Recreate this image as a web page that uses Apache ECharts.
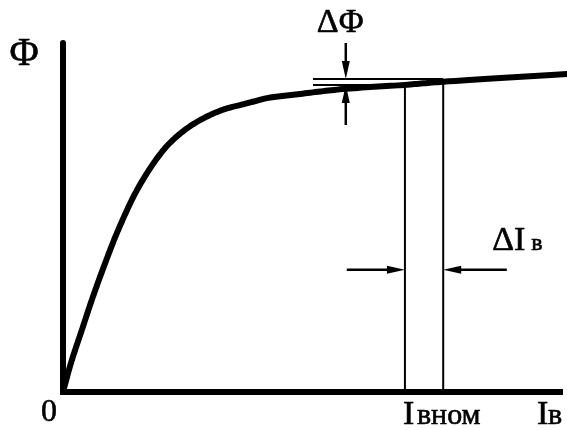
<!DOCTYPE html>
<html>
<head>
<meta charset="utf-8">
<script src="https://cdn.jsdelivr.net/npm/echarts@6/dist/echarts.min.js"></script>
<style>
  html, body { margin: 0; padding: 0; background: #fff; }
  #chart { width: 567px; height: 430px; }
</style>
</head>
<body>
<div id="chart"></div>
<script>
// Magnetization curve Φ = f(Iв) of a DC machine, with the rated operating point
const curveI   = [0, 1.6, 3.8, 6.0, 8.5, 11.1, 14.9, 19.1, 22.1, 26.6, 32.0, 35.6, 38.0, 41.0, 47.7, 56.3, 68.8, 76.5, 101.4];
const curvePhi = [0, 8.3, 17.8, 27.2, 37.0, 46.4, 57.9, 67.3, 72.2, 77.1, 80.8, 82.2, 83.1, 84.2, 85.4, 86.8, 88.0, 88.9, 91.1];

// rated current and its increment, flux levels at both currents
const iNom = 68.8;
const iNomPlus = 76.5;
const phiNom = 88.0;
const phiPlus = 89.7;

// guide lines: [I1, Φ1, I2, Φ2]
const guideSegs = [
  [iNom, 0, iNom, phiNom],
  [iNomPlus, 0, iNomPlus, phiPlus],
  [50.3, phiNom, iNom, phiNom],
  [50.3, phiPlus, iNomPlus, phiPlus]
];
// dimension arrows: [I_from, Φ_from, I_to, Φ_to]
const arrowSegs = [
  [56.9, 100, 56.9, phiPlus],
  [56.9, 76.5, 56.9, phiNom],
  [57.1, 35, iNom, 35],
  [89.3, 35, iNomPlus, 35]
];

const SERIF = '"Liberation Serif", "Times New Roman", serif';

const chart = echarts.init(document.getElementById('chart'), null, { renderer: 'canvas' });

function segItem(params, api) {
  const p1 = api.coord([api.value(0), api.value(1)]);
  const p2 = api.coord([api.value(2), api.value(3)]);
  return {
    type: 'line',
    shape: { x1: p1[0], y1: p1[1], x2: p2[0], y2: p2[1] },
    style: { stroke: '#000', lineWidth: 2 }
  };
}

function arrowItem(params, api) {
  const p1 = api.coord([api.value(0), api.value(1)]);
  const p2 = api.coord([api.value(2), api.value(3)]);
  const dx = p2[0] - p1[0], dy = p2[1] - p1[1];
  const len = Math.hypot(dx, dy);
  const ux = dx / len, uy = dy / len;
  const L = 18, W = 4;
  const bx = p2[0] - ux * L, by = p2[1] - uy * L;
  return {
    type: 'group',
    children: [
      { type: 'line', shape: { x1: p1[0], y1: p1[1], x2: bx + ux * 4, y2: by + uy * 4 },
        style: { stroke: '#000', lineWidth: 2.5 } },
      { type: 'polygon',
        shape: { points: [[p2[0], p2[1]], [bx - uy * W, by + ux * W], [bx + uy * W, by - ux * W]] },
        style: { fill: '#000' } }
    ]
  };
}

// centripetal Catmull-Rom through the curve's screen points
function splinePoints(pts, steps) {
  const out = [];
  const n = pts.length;
  const P = (i) => pts[Math.max(0, Math.min(n - 1, i))];
  for (let i = 0; i < n - 1; i++) {
    const p0 = i === 0 ? [2 * pts[0][0] - pts[1][0], 2 * pts[0][1] - pts[1][1]] : P(i - 1);
    const p1 = P(i), p2 = P(i + 1);
    const p3 = i + 2 >= n ? [2 * p2[0] - p1[0], 2 * p2[1] - p1[1]] : P(i + 2);
    const d = (a, b) => Math.pow(Math.hypot(b[0] - a[0], b[1] - a[1]), 0.5) || 1e-6;
    const t0 = 0, t1 = t0 + d(p0, p1), t2 = t1 + d(p1, p2), t3 = t2 + d(p2, p3);
    for (let s = 0; s < steps; s++) {
      const t = t1 + (t2 - t1) * s / steps;
      const lerp = (a, b, ta, tb) => [
        ((tb - t) * a[0] + (t - ta) * b[0]) / (tb - ta),
        ((tb - t) * a[1] + (t - ta) * b[1]) / (tb - ta)
      ];
      const A1 = lerp(p0, p1, t0, t1), A2 = lerp(p1, p2, t1, t2), A3 = lerp(p2, p3, t2, t3);
      const B1 = lerp(A1, A2, t0, t2), B2 = lerp(A2, A3, t1, t3);
      out.push(lerp(B1, B2, t1, t2));
    }
  }
  out.push(pts[n - 1]);
  return out;
}

function curveItem(params, api) {
  if (params.dataIndex !== 0) return null;
  const pts = curveI.map((v, i) => api.coord([v, curvePhi[i]]));
  return {
    type: 'polyline',
    shape: { points: splinePoints(pts, 16) },
    style: { stroke: '#000', lineWidth: 6, fill: null, lineJoin: 'round', lineCap: 'round' }
  };
}

chart.setOption({
  backgroundColor: '#fff',
  animation: false,
  grid: { left: 63, right: 7, top: 43, bottom: 38 },
  xAxis: {
    type: 'value', min: 0, max: 100,
    axisLine: { show: true, lineStyle: { color: '#000', width: 6, cap: 'square' } },
    axisTick: { show: false }, axisLabel: { show: false }, splitLine: { show: false }
  },
  yAxis: {
    type: 'value', min: 0, max: 100,
    axisLine: { show: true, lineStyle: { color: '#000', width: 6 } },
    axisTick: { show: false }, axisLabel: { show: false }, splitLine: { show: false }
  },
  series: [
    {
      type: 'custom', renderItem: segItem, clip: false,
      encode: { x: [0, 2], y: [1, 3] }, data: guideSegs, z: 3
    },
    {
      type: 'custom', renderItem: arrowItem, clip: false,
      encode: { x: [0, 2], y: [1, 3] }, data: arrowSegs, z: 4
    },
    {
      type: 'custom', renderItem: curveItem, clip: false,
      encode: { x: 0, y: 1 },
      data: curveI.map((v, i) => [v, curvePhi[i]]), z: 5
    }
  ]
});

// text labels anchored to the axes
const toPx = (x, y) => chart.convertToPixel({ gridIndex: 0 }, [x, y]);
function label(text, x, baseline, size, align) {
  return {
    type: 'text', x: x, y: baseline - 0.33 * size,
    style: { text: text, font: size + 'px ' + SERIF, fill: '#000',
             stroke: '#000', lineWidth: 0.6,
             textAlign: align || 'left', textVerticalAlign: 'middle' }
  };
}
const pO = toPx(0, 0);
const pTop = toPx(0, 100);
const pN = toPx(iNom, 0);
const pE = toPx(100, 0);
const pA = toPx(56.9, 100);
const pD = toPx(iNomPlus, 35);

chart.setOption({
  graphic: [
    label('0', pO[0] - 14, pO[1] + 31, 32, 'center'),
    label('Φ', pTop[0] - 39, pTop[1] + 25, 40, 'center'),
    label('ΔΦ', pA[0] - 29, pA[1] - 9, 34, 'left'),
    label('ΔI', pD[0] + 49, pD[1] - 18, 34, 'left'),
    label('в', pD[0] + 88, pD[1] - 18, 24, 'left'),
    label('I', pN[0] - 2, pO[1] + 34, 34, 'left'),
    label('вном', pN[0] + 12, pO[1] + 34, 30, 'left'),
    label('I', pE[0] - 23, pO[1] + 34, 34, 'left'),
    label('в', pE[0] - 12, pO[1] + 34, 30, 'left')
  ]
});
</script>
</body>
</html>
